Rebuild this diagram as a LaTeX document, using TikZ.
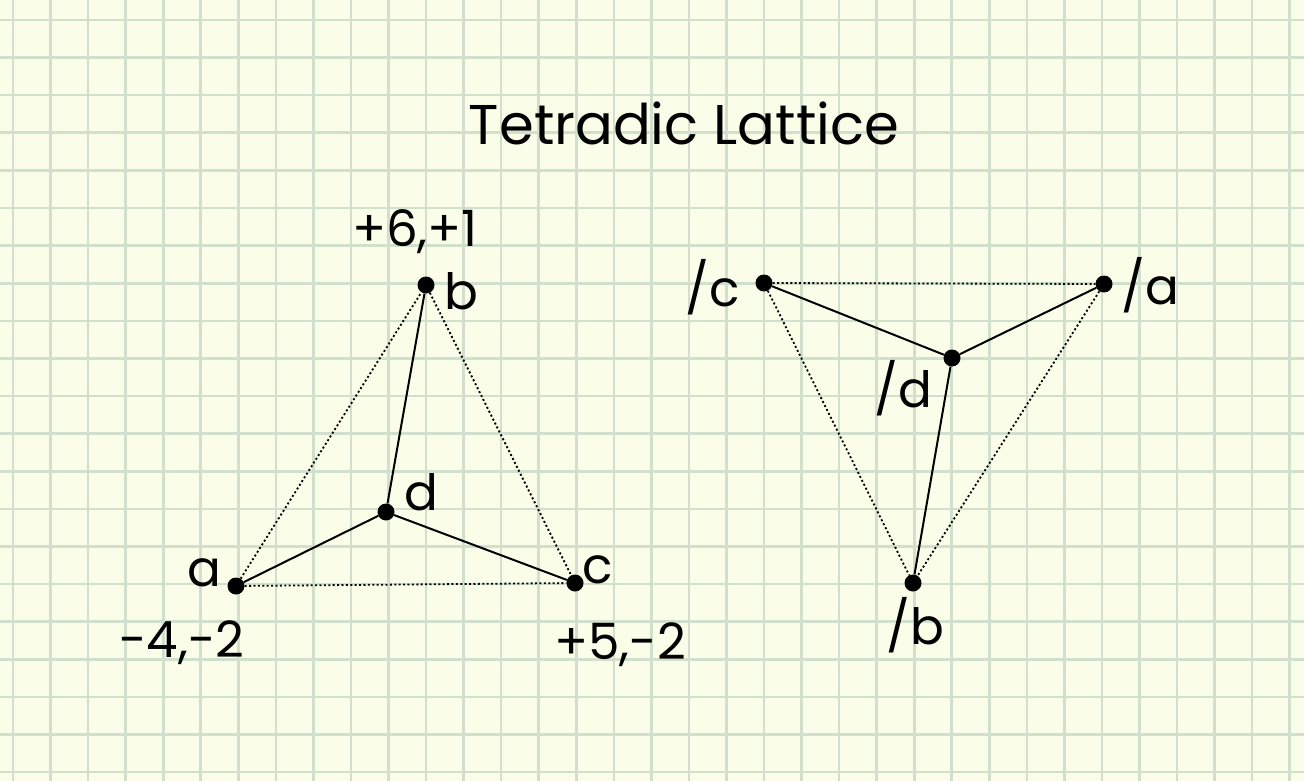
\documentclass[tikz,border=0pt]{standalone}
\usepackage{fontspec}
\setmainfont{Poppins}
\definecolor{paper}{RGB}{250,253,232}
\definecolor{gridline}{RGB}{208,224,204}
\begin{document}
\begin{tikzpicture}[x=1pt, y=-1pt,
    vertex/.style={circle, fill=black, inner sep=0pt, minimum size=17pt},
    lbl/.style={font=\fontsize{50}{60}\selectfont, inner sep=0pt},
    edge/.style={line width=2pt},
    hidden/.style={line width=1.8pt, dash pattern=on 2pt off 2.4pt}]
    % graph paper
    \useasboundingbox (0,0) rectangle (1304,781);
    \fill[paper] (0,0) rectangle (1304,781);
    \foreach \i in {0,...,34}
        \draw[gridline, line width=2.6pt] ({13+37.55*\i},0) -- ++(0,781);
    \foreach \j in {0,...,20}
        \draw[gridline, line width=2.6pt] (0,{20+37.6*\j}) -- ++(1304,0);

    % title
    \node[font=\fontsize{56}{66}\selectfont, inner sep=0pt] (title) at (684,123) {Tetradic Lattice};

    % lattice a, b, c, d
    \node[vertex] (b) at (426,285) {};
    \node[vertex] (d) at (386,512) {};
    \node[vertex] (a) at (236,586) {};
    \node[vertex] (c) at (575,583) {};
    \draw[edge] (b) -- (d);
    \draw[edge] (d) -- (a);
    \draw[edge] (d) -- (c);
    \draw[hidden] (a) -- (b);
    \draw[hidden] (b) -- (c);
    \draw[hidden] (a) -- (c);
    \node[lbl] (lb) at (461,291) {b};
    \node[lbl] (lbc) at (415,232) {+6,+1};
    \node[lbl] (ld) at (421,492) {d};
    \node[lbl] (la) at (204,573) {a};
    \node[lbl] (lac) at (182,643) {-4,-2};
    \node[lbl] (lc) at (598,570) {c};
    \node[lbl] (lcc) at (620,645) {+5,-2};

    % inverse lattice /a, /b, /c, /d
    \node[vertex] (ic) at (764,283) {};
    \node[vertex] (ia) at (1104,284) {};
    \node[vertex] (id) at (952,358) {};
    \node[vertex] (ib) at (913,583) {};
    \draw[edge] (ic) -- (id);
    \draw[edge] (id) -- (ia);
    \draw[edge] (id) -- (ib);
    \draw[hidden] (ic) -- (ia);
    \draw[hidden] (ic) -- (ib);
    \draw[hidden] (ia) -- (ib);
    \node[lbl] (lic) at (713,287) {/c};
    \node[lbl] (lia) at (1150,285) {/a};
    \node[lbl] (lid) at (903,388) {/d};
    \node[lbl] (lib) at (915,625) {/b};
\end{tikzpicture}
\end{document}
